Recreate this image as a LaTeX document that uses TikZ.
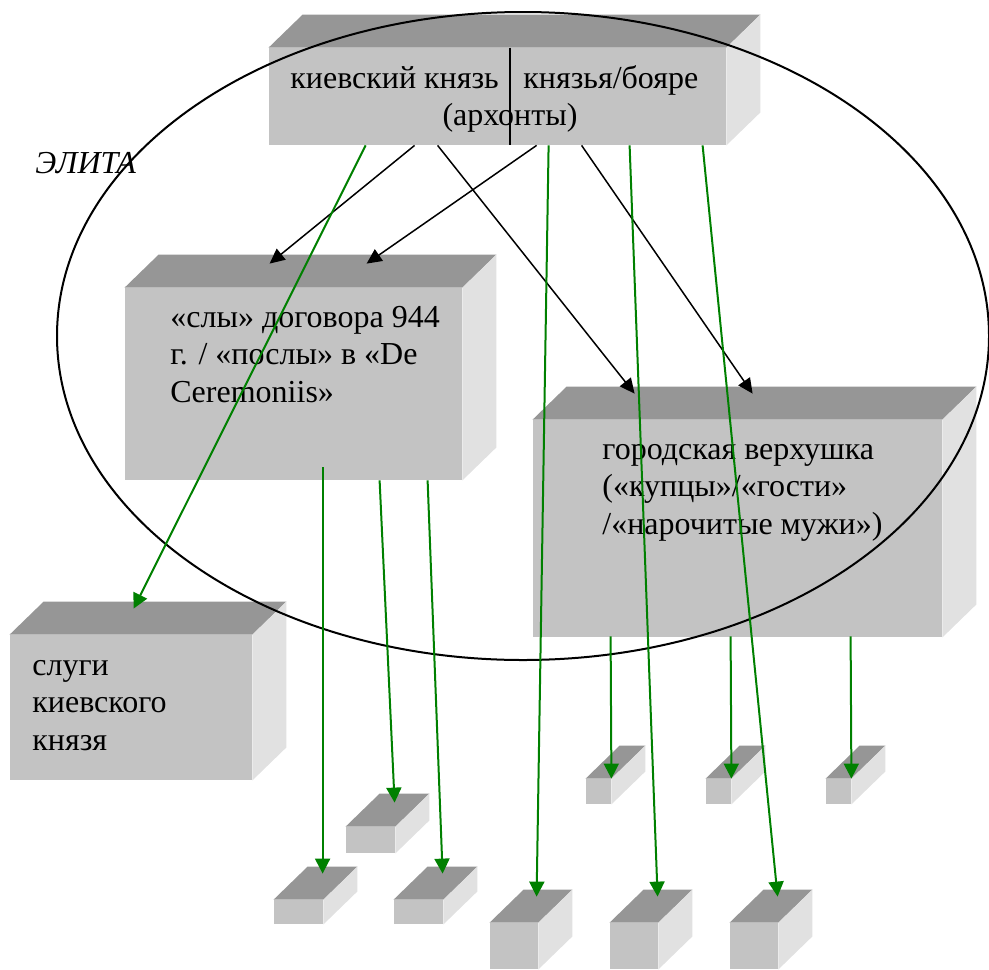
\documentclass[tikz,border=0pt]{standalone}
\usepackage{fontspec}
\setmainfont{Liberation Serif}
\usetikzlibrary{arrows.meta,calc,fit}

\definecolor{facefront}{HTML}{C3C3C3}
\definecolor{facetop}{HTML}{969696}
\definecolor{faceside}{HTML}{E1E1E1}
\definecolor{arrowgreen}{HTML}{008000}

\tikzstyle{frontface}=[rectangle, fill=facefront, inner sep=0pt]
\tikzstyle{boxtext}=[anchor=base west, align=left, inner sep=0pt, font=\fontsize{16}{18.75}\selectfont]
\tikzstyle{blackarrow}=[-{Triangle[length=7.5pt,width=7pt]}, line width=0.75pt]
\tikzstyle{greenarrow}=[-{Triangle[length=7.5pt,width=7.5pt]}, line width=1pt, arrowgreen]
\tikzstyle{line}=[-, line width=1pt]

% top and right faces of a box whose front face is node #1
\newcommand{\cubefaces}[1]{%
  \fill[facetop] (#1.north west) -- ++(34,-33) -- ($(#1.north east)+(34,-33)$) -- (#1.north east) -- cycle;
  \fill[faceside] (#1.north east) -- ++(34,-33) -- ($(#1.south east)+(34,-33)$) -- (#1.south east) -- cycle;}

\begin{document}
\begin{tikzpicture}[x=0.5pt, y=-0.5pt]
    \useasboundingbox (0,0) rectangle (989,969);

    % big boxes
    \node (elite) [frontface, fit={(269,48) (726,145)}] {};
    \cubefaces{elite}
    \node (envoys) [frontface, fit={(125,288) (462,480)}] {};
    \cubefaces{envoys}
    \node (townelite) [frontface, fit={(533,420) (942,637)}] {};
    \cubefaces{townelite}
    \node (servants) [frontface, fit={(10,635) (252,780)}] {};
    \cubefaces{servants}

    % small boxes
    \node (sA) [frontface, fit={(346,827) (395,853)}] {};
    \cubefaces{sA}
    \node (sB) [frontface, fit={(274,900) (323,924)}] {};
    \cubefaces{sB}
    \node (sC) [frontface, fit={(394,900) (443,924)}] {};
    \cubefaces{sC}
    \node (bD) [frontface, fit={(490,923) (538,969)}] {};
    \cubefaces{bD}
    \node (bE) [frontface, fit={(610,923) (658,969)}] {};
    \cubefaces{bE}
    \node (bF) [frontface, fit={(730,923) (778,969)}] {};
    \cubefaces{bF}
    \node (tG) [frontface, fit={(586,779) (611,804)}] {};
    \cubefaces{tG}
    \node (tH) [frontface, fit={(706,779) (731,804)}] {};
    \cubefaces{tH}
    \node (tI) [frontface, fit={(826,779) (851,804)}] {};
    \cubefaces{tI}

    % texts (base = last line)
    \node (prince) at (290,88) [boxtext] {киевский князь};
    \node (boyars) at (523,88) [boxtext] {князья/бояре};
    \node (archons) at (510,125) [boxtext, anchor=base] {(архонты)};
    \draw[line] ($(elite.north west)+(241,0)$) -- ($(elite.south west)+(241,0)$);
    \node (envoystext) at (170,402) [boxtext] {«слы» договора 944\\г. / «послы» в «De\\Ceremoniis»};
    \node (towntext) at (602,534) [boxtext] {городская верхушка\\(«купцы»/«гости»\\/«нарочитые мужи»)};
    \node (servantstext) at (32,750) [boxtext] {слуги\\киевского\\князя};
    \node (elitelabel) at (35,173) [boxtext, font=\fontsize{16}{18.75}\selectfont\itshape] {ЭЛИТА};

    \draw[line] (523,336) ellipse [x radius=466, y radius=324];

    % from the top box
    \draw[blackarrow] ($(elite.south west)+(146,0)$) -- ($(envoys.north west)+(145,-24)$);
    \draw[blackarrow] ($(elite.south west)+(268,0)$) -- ($(envoys.north west)+(242,-24)$);
    \draw[blackarrow] ($(elite.south west)+(169,0)$) -- ($(townelite.north west)+(102,-26)$);
    \draw[blackarrow] ($(elite.south west)+(313,0)$) -- ($(townelite.north west)+(220,-26)$);
    \draw[greenarrow] ($(elite.south west)+(97,0)$) -- ($(servants.north west)+(124,-26)$);
    \draw[greenarrow] ($(elite.south west)+(280,0)$) -- ($(bD.north west)+(47,-26)$);
    \draw[greenarrow] ($(elite.south west)+(361,0)$) -- ($(bE.north west)+(48,-26)$);
    \draw[greenarrow] ($(elite.south west)+(434,0)$) -- ($(bF.north west)+(48,-26)$);

    % from the envoys
    \draw[greenarrow] ($(envoys.south west)+(198,-13)$) -- ($(sB.north west)+(49,-26)$);
    \draw[greenarrow] ($(envoys.south west)+(255,0)$) -- ($(sA.north west)+(49,-24)$);
    \draw[greenarrow] ($(envoys.south west)+(303,0)$) -- ($(sC.north west)+(49,-26)$);

    % from the town elite
    \draw[greenarrow] ($(townelite.south west)+(78,-1)$) -- (tG.north east);
    \draw[greenarrow] ($(townelite.south west)+(198,-1)$) -- (tH.north east);
    \draw[greenarrow] ($(townelite.south west)+(318,-1)$) -- (tI.north east);
\end{tikzpicture}
\end{document}
